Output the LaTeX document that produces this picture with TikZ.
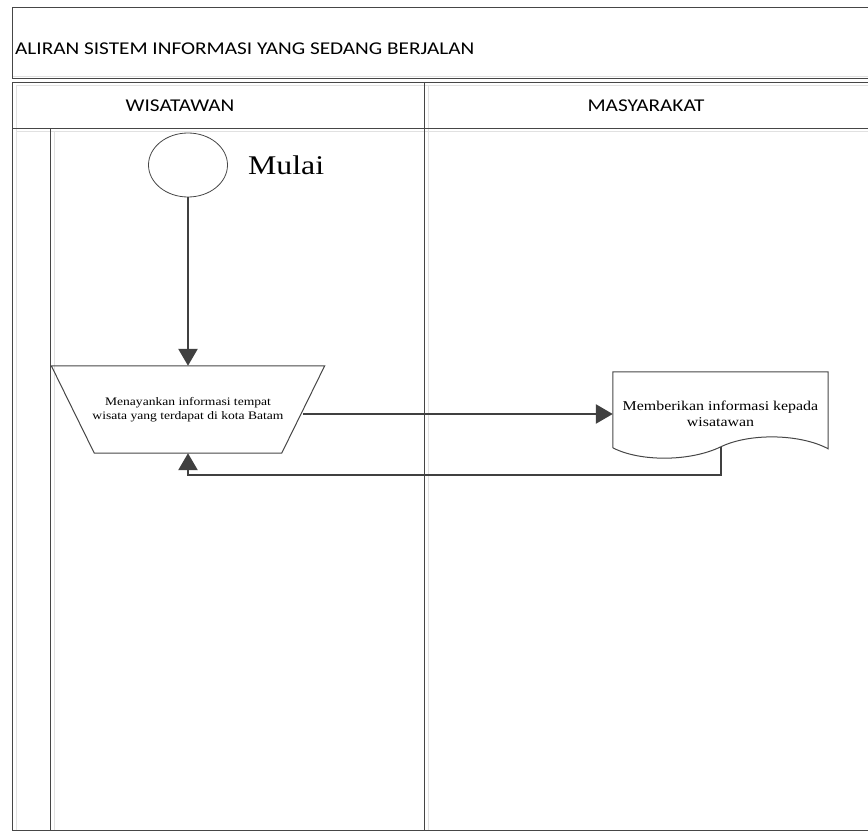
\documentclass[tikz,border=0pt]{standalone}
\usepackage{fontspec}
\setmainfont{Liberation Serif}[FakeStretch=1.18]
\newfontfamily\headfont{Carlito}[FakeStretch=1.18]
\usetikzlibrary{arrows.meta,positioning,calc,shapes.geometric}

\begin{document}
\begin{tikzpicture}[
        x=1pt, y=-1pt, % una unidad = un pixel, eje y hacia abajo
        >={Triangle[width=19pt,length=17pt]},
        frame/.style={draw=framegray, line width=1pt},
        shadow/.style={draw=shadowgray, line width=1pt},
        flow/.style={->, draw=arrowgray, line width=2.6pt},
        headtext/.style={font=\headfont\fontsize{18}{20}\selectfont, inner sep=0pt},
        boxtext/.style={align=center, inner sep=0pt}
    ]

        % --- COLORES ---
        \definecolor{framegray}{RGB}{70, 70, 70}
        \definecolor{shadowgray}{RGB}{225, 225, 225}
        \definecolor{arrowgray}{RGB}{64, 64, 64}

        \useasboundingbox (0,0) rectangle (868,832);

        % --- MARCOS (sombras claras primero) ---
        \draw[shadow] (16,830) -- (16,86) -- (868,86);
        \draw[shadow] (16,132) -- (868,132);
        \draw[shadow] (54,132) -- (54,830);
        \draw[shadow] (428,86) -- (428,830);
        \draw[shadow] (12,77) -- (868,77);

        \draw[frame] (868,8) -- (12,8) -- (12,79) -- (868,79);
        \draw[frame] (868,83) -- (12,83) -- (12,830) -- (868,830);
        \draw[frame] (12,129) -- (868,129);
        \draw[frame] (424,83) -- (424,830);
        \draw[frame] (50,129) -- (50,830);

        % --- TITULO Y CARRILES ---
        \node[headtext, anchor=west] (title) at (15,49)
            {ALIRAN SISTEM INFORMASI YANG SEDANG BERJALAN};
        \node[headtext] (wisatawan) at (180,106) {WISATAWAN};
        \node[headtext] (masyarakat) at (646,106) {MASYARAKAT};

        % --- INICIO ---
        \node[ellipse, draw=framegray, line width=0.8pt,
            minimum width=79pt, minimum height=64pt] (mulai) at (188,165) {};
        \node[right=20pt of mulai, inner sep=0pt,
            font=\fontsize{27}{30}\selectfont] (mulailabel) {Mulai};

        % --- ENTRADA MANUAL (TRAPECIO) ---
        \node[boxtext, minimum width=230pt, minimum height=87pt,
            font=\fontsize{11.5}{14}\selectfont] (tanya) at (188,409.5)
            {Menayankan informasi tempat\\wisata yang terdapat di kota Batam};
        \draw[frame] ([xshift=-21.5pt]tanya.north west) -- ([xshift=21.5pt]tanya.north east)
            -- ([xshift=-21.5pt]tanya.south east) -- ([xshift=21.5pt]tanya.south west) -- cycle;

        % --- DOCUMENTO ---
        \node[boxtext, minimum width=215pt, minimum height=84pt,
            font=\fontsize{13.5}{16}\selectfont] (beri) at (720.5,414)
            {Memberikan informasi kepada\\wisatawan};
        \coordinate (beriwave) at ($(beri.north west)+(108,75)$);
        \draw[frame] ($(beri.north west)+(0,76)$) -- (beri.north west) -- (beri.north east)
            -- ($(beri.north east)+(0,77)$)
            .. controls +(-28,-15) and +(29,-14) .. (beriwave)
            .. controls +(-31,15) and +(27,14) .. ($(beri.north west)+(0,76)$);

        % --- FLUJOS ---
        \draw[flow] (mulai.south) -- (tanya.north);
        \draw[flow] ([yshift=-4.5pt]tanya.east) -- (beri.west);
        \draw[flow] (beriwave) -- ++(0,28) -| (tanya.south);

    \end{tikzpicture}
\end{document}
